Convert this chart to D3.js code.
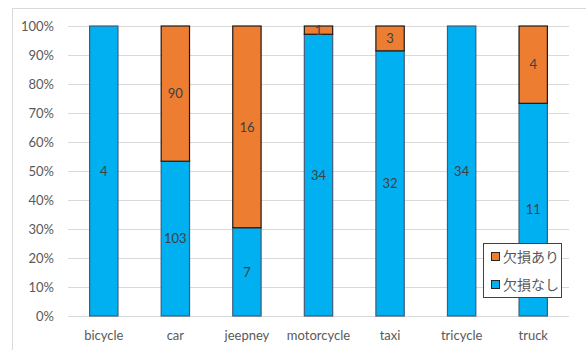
<!DOCTYPE html>
<html>
<head>
<meta charset="utf-8">
<script src="https://cdn.jsdelivr.net/npm/d3@7"></script>
<style>
  html, body { margin: 0; padding: 0; background: #fff; }
  svg { display: block; }
  text { font-family: Lato, "Noto Sans CJK JP", sans-serif; }
</style>
</head>
<body>
<svg id="chart" width="586" height="350"></svg>
<script>
// Vehicle types and counts with / without missing data
const categories = ["bicycle", "car", "jeepney", "motorcycle", "taxi", "tricycle", "truck"];
const missingNone = [4, 103, 7, 34, 32, 34, 11];   // 欠損なし
const missingSome = [0, 90, 16, 1, 3, 0, 4];       // 欠損あり
const yTickLabels = ["0%", "10%", "20%", "30%", "40%", "50%", "60%", "70%", "80%", "90%", "100%"];
const seriesNames = ["欠損なし", "欠損あり"];
const seriesColors = ["#00B0F0", "#ED7D31"];
const seriesStrokes = ["#3f5d78", "#1a1a1a"];

const svg = d3.select("#chart");

// Chart frame
svg.append("rect")
  .attr("x", 12.5).attr("y", 8.5)
  .attr("width", 600).attr("height", 400)
  .attr("fill", "#fff").attr("stroke", "#d9d9d9");

const x = d3.scaleBand()
  .domain(categories)
  .range([68, 569])
  .paddingInner(0.59)
  .paddingOuter(0.295);

const y = d3.scaleLinear().domain([0, 1]).range([316, 26]);

// Gridlines
svg.append("g")
  .selectAll("line")
  .data(d3.range(0, 11).map(i => i / 10))
  .join("line")
  .attr("x1", 68).attr("x2", 569)
  .attr("y1", d => Math.round(y(d)) + 0.5)
  .attr("y2", d => Math.round(y(d)) + 0.5)
  .attr("stroke", "#d9d9d9").attr("stroke-width", 1);

// Y axis labels
const yAxis = d3.axisLeft(y)
  .tickValues(d3.range(0, 11).map(i => i / 10))
  .tickFormat((d, i) => yTickLabels[i])
  .tickSize(0).tickPadding(0);
const yg = svg.append("g").attr("transform", "translate(54,0)").call(yAxis);
yg.select(".domain").remove();
yg.selectAll("text")
  .attr("fill", "#595959")
  .style("font-size", "13px")
  .style("font-family", "Lato, sans-serif");

// X axis labels
const xAxis = d3.axisBottom(x).tickSize(0).tickPadding(0);
const xg = svg.append("g").attr("transform", "translate(0,331)").call(xAxis);
xg.select(".domain").remove();
xg.selectAll("text")
  .attr("fill", "#595959")
  .style("font-size", "13px")
  .style("font-family", "Lato, sans-serif");

// Stack the series as shares of each category total
const rows = categories.map((c, i) => {
  const total = missingNone[i] + missingSome[i];
  return { cat: c, n0: missingNone[i], n1: missingSome[i], total };
});

const segs = [];
rows.forEach(r => {
  const p0 = r.n0 / r.total;
  const p1 = r.n1 / r.total;
  segs.push({ cat: r.cat, s: 0, v: r.n0, y0: 0, y1: p0 });
  segs.push({ cat: r.cat, s: 1, v: r.n1, y0: p0, y1: p0 + p1 });
});
const visible = segs.filter(d => d.v > 0);

svg.append("g")
  .selectAll("rect")
  .data(visible)
  .join("rect")
  .attr("x", d => x(d.cat) + 0.5)
  .attr("width", x.bandwidth() - 1)
  .attr("y", d => y(d.y1))
  .attr("height", d => y(d.y0) - y(d.y1))
  .attr("fill", d => seriesColors[d.s])
  .attr("stroke", d => seriesStrokes[d.s])
  .attr("stroke-width", 1.2);

// Value labels in the middle of each segment
svg.append("g")
  .selectAll("text")
  .data(visible)
  .join("text")
  .attr("x", d => x(d.cat) + x.bandwidth() / 2)
  .attr("y", d => y((d.y0 + d.y1) / 2))
  .attr("dy", "0.36em")
  .attr("text-anchor", "middle")
  .attr("fill", "#404040")
  .style("font-size", "13px")
  .text(d => d.v);

// Legend
const lg = svg.append("g").attr("transform", "translate(483,243)");
lg.append("rect")
  .attr("x", 0.5).attr("y", 0.5)
  .attr("width", 78).attr("height", 54)
  .attr("fill", "#fff").attr("stroke", "#404040");
const legendItems = [1, 0];
legendItems.forEach((s, i) => {
  const g = lg.append("g").attr("transform", `translate(8,${9 + i * 28})`);
  g.append("rect")
    .attr("x", 0.5).attr("y", 0.5)
    .attr("width", 8).attr("height", 8)
    .attr("fill", seriesColors[s])
    .attr("stroke", "#262626");
  g.append("text")
    .attr("x", 12).attr("y", 5)
    .attr("dy", "0.36em")
    .attr("fill", "#595959")
    .style("font-size", "14px")
    .style("font-family", "'Noto Sans CJK JP', sans-serif")
    .text(seriesNames[s]);
});
</script>
</body>
</html>
